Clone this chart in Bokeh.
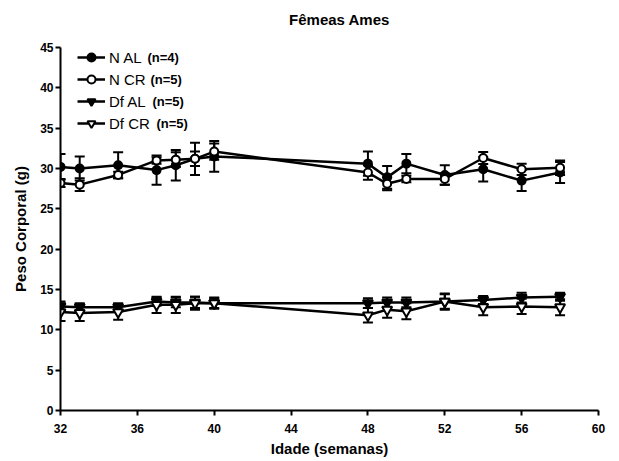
from bokeh.plotting import figure
from bokeh.layouts import column
from bokeh.models import (ColumnDataSource, Whisker, TeeHead, Legend, LegendItem,
                          Label, Range1d, FixedTicker)
from bokeh.embed import file_html
from bokeh.resources import INLINE

weeks = [32, 33, 35, 37, 38, 39, 40, 48, 49, 50, 52, 54, 56, 58]
n_al = [30.2, 30.0, 30.4, 29.8, 30.4, 31.2, 31.5, 30.6, 28.9, 30.6, 29.2, 29.9, 28.5, 29.5]
n_al_err = [1.6, 1.5, 1.6, 1.8, 1.9, 2.0, 1.9, 1.5, 1.4, 1.2, 1.2, 1.5, 1.3, 1.3]
n_cr = [28.2, 28.0, 29.2, 31.0, 31.1, 31.2, 32.1, 29.5, 28.1, 28.7, 28.7, 31.3, 29.9, 30.1]
n_cr_err = [0.5, 0.8, 0.4, 0.4, 0.9, 0.9, 1.0, 0.9, 0.8, 0.4, 0.7, 0.75, 0.7, 0.9]
df_al = [12.9, 12.8, 12.8, 13.5, 13.4, 13.4, 13.3, 13.3, 13.4, 13.4, 13.5, 13.7, 14.0, 14.1]
df_al_err = [0.6, 0.5, 0.5, 0.5, 0.6, 0.7, 0.6, 0.6, 0.6, 0.6, 1.0, 0.5, 0.6, 0.5]
df_cr = [12.2, 12.1, 12.2, 13.1, 13.1, 13.3, 13.3, 11.8, 12.5, 12.3, 13.5, 12.8, 12.9, 12.8]
df_cr_err = [1.1, 1.0, 0.95, 1.0, 1.0, 0.8, 0.7, 0.9, 1.0, 1.0, 0.9, 1.0, 0.95, 1.0]

title_text = "Fêmeas Ames"
series_names = ["N AL", "N CR", "Df AL", "Df CR"]
series_n = ["(n=4)", "(n=5)", "(n=5)", "(n=5)"]
x_ticks = [32, 36, 40, 44, 48, 52, 56, 60]
y_ticks = [0, 5, 10, 15, 20, 25, 30, 35, 40, 45]

FONT = "Liberation Sans"

# Title strip (separate small canvas so the title sits high above the frame)
tfig = figure(width=619, height=30, output_backend="svg", toolbar_location=None,
              x_axis_type=None, y_axis_type=None, min_border=0,
              x_range=Range1d(0, 1), y_range=Range1d(0, 1))
tfig.outline_line_color = None
tfig.grid.visible = False
tfig.add_layout(Label(x=279, y=11, x_units="screen", y_units="screen",
                      text=title_text, text_font=FONT, text_font_style="bold",
                      text_color="black", text_font_size="15px",
                      text_align="center", text_baseline="middle"))

p = figure(width=619, height=431, output_backend="svg", toolbar_location=None,
           x_range=Range1d(32, 60), y_range=Range1d(0, 45),
           min_border_left=60, min_border_right=21, min_border_top=17, min_border_bottom=51)
p.outline_line_color = None
p.xgrid.visible = False
p.ygrid.visible = False
p.background_fill_color = "white"

for ax in (p.xaxis[0], p.yaxis[0]):
    ax.axis_line_width = 2
    ax.axis_line_color = "black"
    ax.major_tick_line_width = 2
    ax.major_tick_line_color = "black"
    ax.major_tick_out = 5
    ax.major_tick_in = 0
    ax.minor_tick_line_color = None
    ax.major_label_text_font = FONT
    ax.major_label_text_font_style = "bold"
    ax.major_label_text_font_size = "12px"
    ax.major_label_text_color = "black"
    ax.axis_label_text_font = FONT
    ax.axis_label_text_font_style = "bold"
    ax.axis_label_text_font_size = "15px"
    ax.axis_label_text_color = "black"

p.xaxis.ticker = FixedTicker(ticks=x_ticks)
p.yaxis.ticker = FixedTicker(ticks=y_ticks)
p.xaxis.major_label_standoff = 8
p.yaxis.major_label_standoff = 2
p.xaxis.axis_label = "Idade (semanas)"
p.yaxis.axis_label = "Peso Corporal (g)"
p.xaxis.axis_label_standoff = 4
p.yaxis.axis_label_standoff = 8

specs = [
    (n_al, n_al_err, "circle", 8, "black"),
    (n_cr, n_cr_err, "circle", 8, "white"),
    (df_al, df_al_err, "inverted_triangle", 10, "black"),
    (df_cr, df_cr_err, "inverted_triangle", 10, "white"),
]

items = []
for name, (vals, errs, marker, size, fill) in zip(series_names, specs):
    src = ColumnDataSource(dict(x=weeks, y=vals,
                                upper=[v + e for v, e in zip(vals, errs)],
                                lower=[v - e for v, e in zip(vals, errs)]))
    w = Whisker(source=src, base="x", upper="upper", lower="lower",
                line_color="black", line_width=2,
                upper_head=TeeHead(size=10, line_width=2, line_color="black"),
                lower_head=TeeHead(size=10, line_width=2, line_color="black"))
    p.add_layout(w)
    lr = p.line("x", "y", source=src, line_color="black", line_width=2.5)
    sr = p.scatter("x", "y", source=src, marker=marker, size=size,
                   fill_color=fill, line_color="black", line_width=2)
    items.append(LegendItem(label=name, renderers=[lr, sr]))

legend = Legend(items=items, location=(17, 277), glyph_width=28, glyph_height=20,
                label_height=20, spacing=2, padding=0, margin=0, label_standoff=4,
                label_text_font=FONT, label_text_font_size="15px", label_text_color="black",
                background_fill_alpha=0, border_line_color=None)
p.add_layout(legend)

label_x = [87, 90, 92, 96]
for i, txt in enumerate(series_n):
    p.add_layout(Label(x=label_x[i], y=353 - i * 22, x_units="screen", y_units="screen",
                       text=txt, text_font=FONT, text_font_style="bold", text_color="black",
                       text_font_size="13px", text_baseline="middle"))

layout = column(tfig, p, spacing=0)
open("out.html", "w").write(file_html(layout, INLINE))
